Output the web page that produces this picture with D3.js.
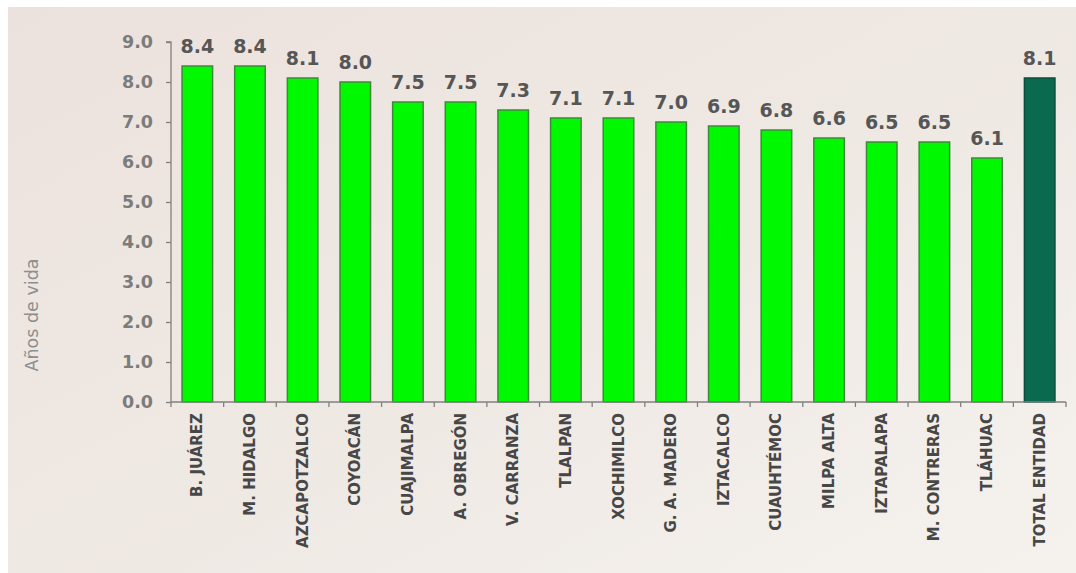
<!DOCTYPE html>
<html>
<head>
<meta charset="utf-8">
<script src="https://cdn.jsdelivr.net/npm/d3@7"></script>
<style>
  body { margin: 0; background: #ffffff; }
  svg { display: block; }
</style>
</head>
<body>
<div id="chart"></div>
<script>
// chart data
const categories = ["B. JUÁREZ", "M. HIDALGO", "AZCAPOTZALCO", "COYOACÁN", "CUAJIMALPA",
  "A. OBREGÓN", "V. CARRANZA", "TLALPAN", "XOCHIMILCO", "G. A. MADERO", "IZTACALCO",
  "CUAUHTÉMOC", "MILPA ALTA", "IZTAPALAPA", "M. CONTRERAS", "TLÁHUAC", "TOTAL ENTIDAD"];
const values = [8.4, 8.4, 8.1, 8.0, 7.5, 7.5, 7.3, 7.1, 7.1, 7.0, 6.9, 6.8, 6.6, 6.5, 6.5, 6.1, 8.1];
const yTicks = [0, 1, 2, 3, 4, 5, 6, 7, 8, 9];
const yTitle = "Años de vida";
const totalLabel = "TOTAL ENTIDAD";

const W = 1076, H = 573;
const plotLeft = 171, plotRight = 1066, plotTop = 42, plotBottom = 402;

const svg = d3.select("#chart")
  .append("svg")
    .attr("width", W)
    .attr("height", H);

// background
const grad = svg.append("defs").append("linearGradient")
  .attr("id", "bg")
  .attr("x1", "0%").attr("y1", "0%")
  .attr("x2", "100%").attr("y2", "100%");
grad.append("stop").attr("offset", "0%").attr("stop-color", "#ece2dd");
grad.append("stop").attr("offset", "55%").attr("stop-color", "#efe9e4");
grad.append("stop").attr("offset", "100%").attr("stop-color", "#f5f2ee");

svg.append("rect")
  .attr("x", 8).attr("y", 7)
  .attr("width", W - 8).attr("height", H - 7)
  .attr("fill", "url(#bg)");

const x = d3.scaleBand()
  .domain(categories)
  .range([plotLeft, plotRight])
  .paddingInner(0.42)
  .paddingOuter(0.21);

const y = d3.scaleLinear()
  .domain([0, 9])
  .range([plotBottom, plotTop]);

// bars
svg.selectAll(".bar")
  .data(categories)
  .join("rect")
    .attr("class", "bar")
    .attr("x", d => x(d))
    .attr("y", (d, i) => y(values[i]))
    .attr("width", x.bandwidth())
    .attr("height", (d, i) => y(0) - y(values[i]))
    .attr("fill", d => d === totalLabel ? "#0a6a4f" : "#00f800")
    .attr("stroke", d => d === totalLabel ? "#0b4d3a" : "#3f8a3a")
    .attr("stroke-width", 1.5);

// value labels
svg.selectAll(".val")
  .data(categories)
  .join("text")
    .attr("class", "val")
    .attr("x", d => x(d) + x.bandwidth() / 2)
    .attr("y", (d, i) => y(values[i]) - 13)
    .attr("text-anchor", "middle")
    .style("font-family", "DejaVu Sans")
    .style("font-weight", "bold")
    .style("font-size", "19px")
    .style("fill", "#565656")
    .text((d, i) => d3.format(".1f")(values[i]));

// y axis
const yAxis = svg.append("g")
  .attr("transform", `translate(${plotLeft},0)`)
  .call(d3.axisLeft(y).tickValues(yTicks).tickFormat(d3.format(".1f")).tickSize(5).tickPadding(13));
yAxis.select(".domain").attr("stroke", "#808080").attr("stroke-width", 1.3).attr("d", `M-5,${plotTop}H0V${plotBottom}`);
yAxis.selectAll(".tick line").attr("stroke", "#808080").attr("stroke-width", 1.3);
yAxis.selectAll(".tick text")
  .style("font-family", "DejaVu Sans")
  .style("font-weight", "bold")
  .style("font-size", "17.5px")
  .style("fill", "#7c7c7c");

// x axis: ticks on band edges
const step = x.step();
const edges = d3.range(categories.length + 1).map(i => plotLeft + i * step);
const xAxis = svg.append("g");
xAxis.append("line")
  .attr("x1", plotLeft).attr("x2", plotRight)
  .attr("y1", plotBottom).attr("y2", plotBottom)
  .attr("stroke", "#808080").attr("stroke-width", 1.3);
xAxis.selectAll(".xt")
  .data(edges)
  .join("line")
    .attr("x1", d => d).attr("x2", d => d)
    .attr("y1", plotBottom).attr("y2", plotBottom + 5)
    .attr("stroke", "#808080").attr("stroke-width", 1.3);

// category labels (rotated)
svg.selectAll(".cat")
  .data(categories)
  .join("text")
    .attr("class", "cat")
    .attr("transform", d => `translate(${x(d) + x.bandwidth() / 2 + 5},${plotBottom + 11}) rotate(-90)`)
    .attr("text-anchor", "end")
    .style("font-family", "DejaVu Sans")
    .style("font-weight", "bold")
    .style("font-size", "15px")
    .style("fill", "#474747")
    .text(d => d);

// y title
svg.append("text")
  .attr("transform", `translate(${38},${315}) rotate(-90)`)
  .attr("text-anchor", "middle")
  .style("font-family", "DejaVu Sans")
  .style("font-size", "17.5px")
  .style("fill", "#8e8e8e")
  .text(yTitle);
</script>
</body>
</html>
